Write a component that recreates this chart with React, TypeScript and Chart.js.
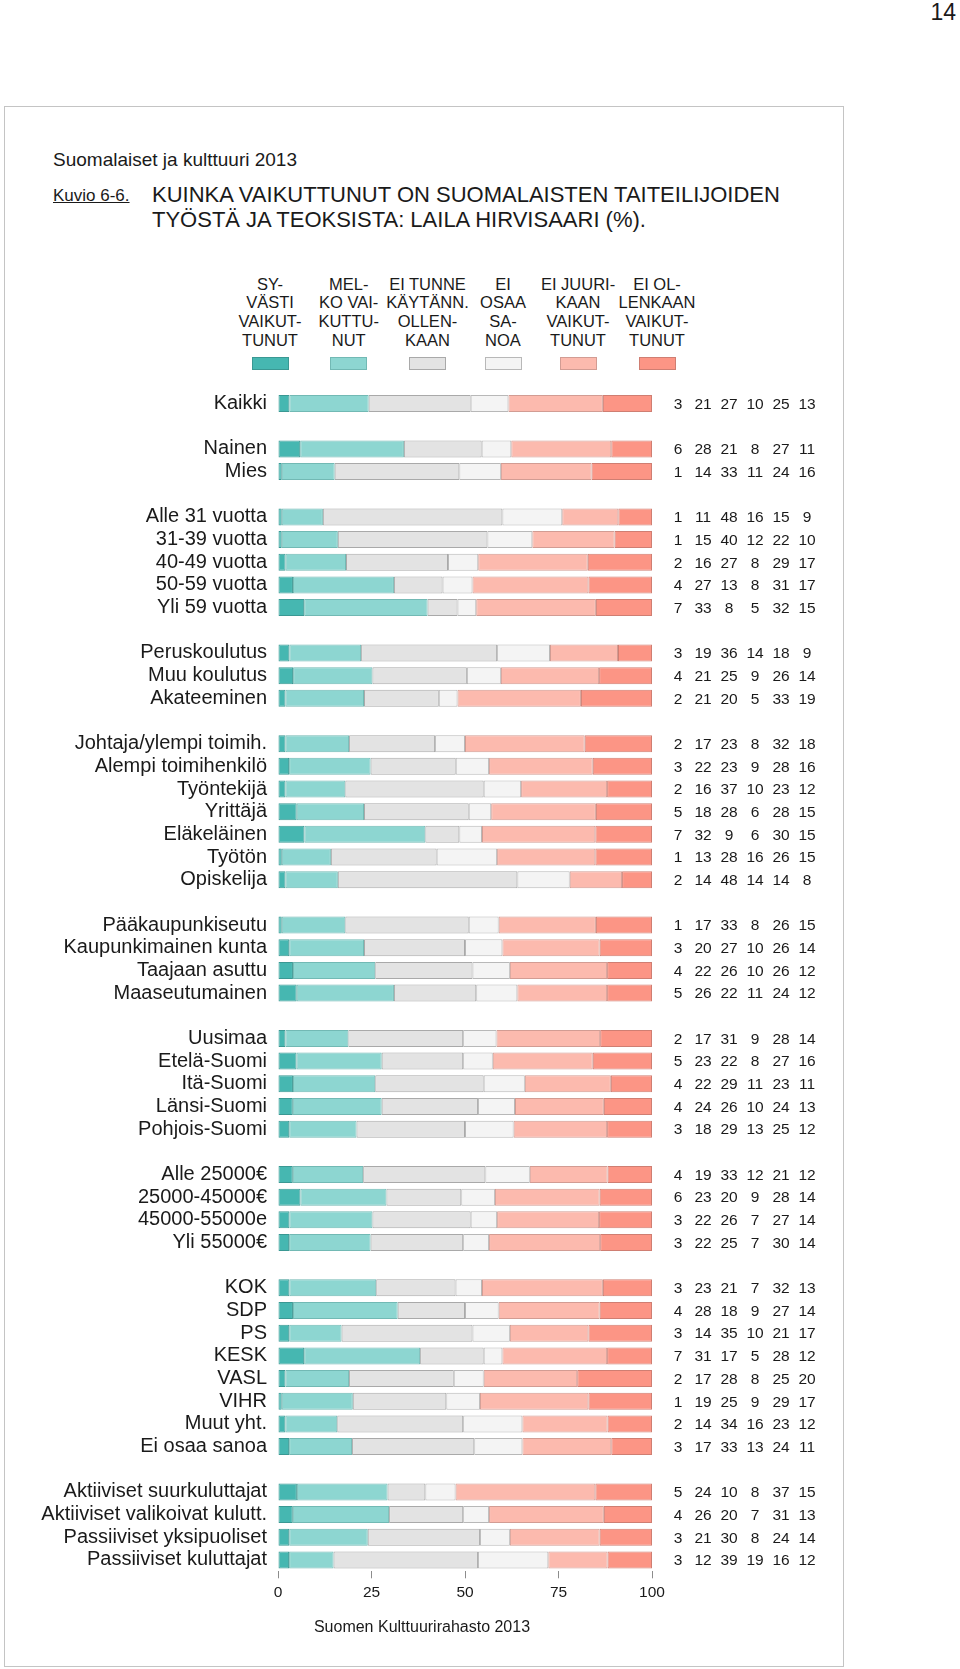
import React, { useEffect, useRef } from 'react';
import { Chart, registerables } from 'chart.js';
Chart.register(...registerables);

const categories: string[] = [
  'Kaikki', '',
  'Nainen', 'Mies', '',
  'Alle 31 vuotta', '31-39 vuotta', '40-49 vuotta', '50-59 vuotta', 'Yli 59 vuotta', '',
  'Peruskoulutus', 'Muu koulutus', 'Akateeminen', '',
  'Johtaja/ylempi toimih.', 'Alempi toimihenkilö', 'Työntekijä', 'Yrittäjä', 'Eläkeläinen', 'Työtön', 'Opiskelija', '',
  'Pääkaupunkiseutu', 'Kaupunkimainen kunta', 'Taajaan asuttu', 'Maaseutumainen', '',
  'Uusimaa', 'Etelä-Suomi', 'Itä-Suomi', 'Länsi-Suomi', 'Pohjois-Suomi', '',
  'Alle 25000€', '25000-45000€', '45000-55000e', 'Yli 55000€', '',
  'KOK', 'SDP', 'PS', 'KESK', 'VASL', 'VIHR', 'Muut yht.', 'Ei osaa sanoa', '',
  'Aktiiviset suurkuluttajat', 'Aktiiviset valikoivat kulutt.', 'Passiiviset yksipuoliset', 'Passiiviset kuluttajat',
];

const seriesNames: string[][] = [
  ['SY-', 'VÄSTI', 'VAIKUT-', 'TUNUT'],
  ['MEL-', 'KO VAI-', 'KUTTU-', 'NUT'],
  ['EI TUNNE', 'KÄYTÄNN.', 'OLLEN-', 'KAAN'],
  ['EI', 'OSAA', 'SA-', 'NOA'],
  ['EI JUURI-', 'KAAN', 'VAIKUT-', 'TUNUT'],
  ['EI OL-', 'LENKAAN', 'VAIKUT-', 'TUNUT'],
];

const syvasti: (number | null)[] = [3, null, 6, 1, null, 1, 1, 2, 4, 7, null, 3, 4, 2, null, 2, 3, 2, 5, 7, 1, 2, null, 1, 3, 4, 5, null, 2, 5, 4, 4, 3, null, 4, 6, 3, 3, null, 3, 4, 3, 7, 2, 1, 2, 3, null, 5, 4, 3, 3];
const melko: (number | null)[] = [21, null, 28, 14, null, 11, 15, 16, 27, 33, null, 19, 21, 21, null, 17, 22, 16, 18, 32, 13, 14, null, 17, 20, 22, 26, null, 17, 23, 22, 24, 18, null, 19, 23, 22, 22, null, 23, 28, 14, 31, 17, 19, 14, 17, null, 24, 26, 21, 12];
const eiTunne: (number | null)[] = [27, null, 21, 33, null, 48, 40, 27, 13, 8, null, 36, 25, 20, null, 23, 23, 37, 28, 9, 28, 48, null, 33, 27, 26, 22, null, 31, 22, 29, 26, 29, null, 33, 20, 26, 25, null, 21, 18, 35, 17, 28, 25, 34, 33, null, 10, 20, 30, 39];
const eiOsaa: (number | null)[] = [10, null, 8, 11, null, 16, 12, 8, 8, 5, null, 14, 9, 5, null, 8, 9, 10, 6, 6, 16, 14, null, 8, 10, 10, 11, null, 9, 8, 11, 10, 13, null, 12, 9, 7, 7, null, 7, 9, 10, 5, 8, 9, 16, 13, null, 8, 7, 8, 19];
const eiJuurikaan: (number | null)[] = [25, null, 27, 24, null, 15, 22, 29, 31, 32, null, 18, 26, 33, null, 32, 28, 23, 28, 30, 26, 14, null, 26, 26, 26, 24, null, 28, 27, 23, 24, 25, null, 21, 28, 27, 30, null, 32, 27, 21, 28, 25, 29, 23, 24, null, 37, 31, 24, 16];
const eiLainkaan: (number | null)[] = [13, null, 11, 16, null, 9, 10, 17, 17, 15, null, 9, 14, 19, null, 18, 16, 12, 15, 15, 15, 8, null, 15, 14, 12, 12, null, 14, 16, 11, 13, 12, null, 12, 14, 14, 14, null, 13, 14, 17, 12, 20, 17, 12, 11, null, 15, 13, 14, 12];

const xTicks: number[] = [0, 25, 50, 75, 100];

const fills = ['#46b7b1', '#8dd6d1', '#e3e3e3', '#f4f4f4', '#fcbaae', '#fc9585'];
const borders = ['#3a9893', '#72b9b4', '#a9a9a9', '#b8b8b8', '#d29c93', '#cf7e72'];

const FONT = '"Liberation Sans", Arial, Helvetica, sans-serif';
const NUM_X = [678, 703, 729, 755, 781, 807];

const allSeries = [syvasti, melko, eiTunne, eiOsaa, eiJuurikaan, eiLainkaan];

// 100 % stacked: each row is shown as shares of its own total
const rowTotals = categories.map((_, i) => allSeries.reduce((a, s) => a + (s[i] ?? 0), 0));
const shareSeries = allSeries.map((s) => s.map((v, i) => (v == null ? null : (v / rowTotals[i]) * 100)));

const numbersPlugin = {
  id: 'rowNumbers',
  afterDatasetsDraw(chart: any) {
    const ctx = chart.ctx;
    const yScale = chart.scales.y;
    ctx.save();
    ctx.font = `15.5px ${FONT}`;
    ctx.fillStyle = '#1a1a1a';
    ctx.textAlign = 'center';
    ctx.textBaseline = 'middle';
    categories.forEach((c, i) => {
      if (!c) return;
      const y = yScale.getPixelForValue(i);
      allSeries.forEach((s, k) => {
        const v = s[i];
        if (v == null) return;
        ctx.fillText(String(v), NUM_X[k], y + 1);
      });
    });
    ctx.restore();
  },
};

const CANVAS_TOP = 380;
const CANVAS_W = 840;
const CANVAS_H = 1240;

export default function App() {
  const ref = useRef<HTMLCanvasElement | null>(null);
  useEffect(() => {
    if (!ref.current) return;
    const chart = new Chart(ref.current, {
      type: 'bar',
      data: {
        labels: categories,
        datasets: shareSeries.map((s, k) => ({
          label: seriesNames[k].join(' '),
          data: s,
          backgroundColor: fills[k],
          borderColor: borders[k],
          borderWidth: 1,
          borderSkipped: false,
          barPercentage: 0.75,
          categoryPercentage: 1,
        })),
      },
      options: {
        indexAxis: 'y',
        animation: false,
        responsive: false,
        devicePixelRatio: 1,
        layout: { padding: { top: 12.2, right: CANVAS_W - 652, bottom: 8.7, left: 0 } },
        plugins: { legend: { display: false }, tooltip: { enabled: false } },
        scales: {
          x: {
            stacked: true,
            min: 0,
            max: 100,
            afterBuildTicks: (scale: any) => {
              scale.ticks = xTicks.map((v) => ({ value: v }));
            },
            afterFit: (scale: any) => {
              scale.height = 40;
              scale.paddingLeft = 0;
              scale.paddingRight = 0;
            },
            grid: { display: true, drawOnChartArea: false, drawTicks: true, tickLength: 7, color: '#8c8c8c' },
            border: { display: false },
            ticks: { font: { family: FONT, size: 15.5 }, color: '#1a1a1a', padding: 5 },
          },
          y: {
            stacked: true,
            afterFit: (scale: any) => {
              scale.width = 278;
              scale.paddingTop = 0;
              scale.paddingBottom = 0;
            },
            grid: { display: false, drawTicks: false },
            border: { display: false },
            ticks: { autoSkip: false, font: { family: FONT, size: 20 }, color: '#1a1a1a', padding: 11 },
          },
        },
      },
      plugins: [numbersPlugin],
    } as any);
    return () => chart.destroy();
  }, []);

  const headerCenters = [270, 348.7, 427.5, 503, 578, 657];

  return (
    <div style={{ position: 'absolute', left: 0, top: 0, width: 960, height: 1669, fontFamily: FONT, color: '#1a1a1a', background: '#fff', overflow: 'hidden' }}>
      <div style={{ position: 'absolute', right: 4, top: -1, fontSize: 23 }}>14</div>
      <div style={{ position: 'absolute', left: 4, top: 106, width: 838, height: 1559, border: '1px solid #c4c4c4' }} />
      <div style={{ position: 'absolute', left: 53, top: 149, fontSize: 19, whiteSpace: 'nowrap' }}>Suomalaiset ja kulttuuri 2013</div>
      <div style={{ position: 'absolute', left: 53, top: 186, fontSize: 17, textDecoration: 'underline', whiteSpace: 'nowrap' }}>Kuvio 6-6.</div>
      <div style={{ position: 'absolute', left: 152, top: 182, fontSize: 22, lineHeight: '25px', whiteSpace: 'nowrap' }}>
        KUINKA VAIKUTTUNUT ON SUOMALAISTEN TAITEILIJOIDEN<br />TYÖSTÄ JA TEOKSISTA: LAILA HIRVISAARI (%).
      </div>
      {seriesNames.map((lines, k) => (
        <div key={k}>
          <div style={{ position: 'absolute', left: headerCenters[k] - 50, width: 100, top: 274.5, fontSize: 16.5, lineHeight: '18.7px', textAlign: 'center' }}>
            {lines.map((l, j) => (<div key={j}>{l}</div>))}
          </div>
          <div style={{ position: 'absolute', left: headerCenters[k] - 18.5, top: 357, width: 37, height: 13, boxSizing: 'border-box', background: fills[k], border: `1px solid ${borders[k]}` }} />
        </div>
      ))}
      <canvas ref={ref} width={CANVAS_W} height={CANVAS_H} style={{ position: 'absolute', left: 0, top: CANVAS_TOP, width: CANVAS_W, height: CANVAS_H }} />
      <div style={{ position: 'absolute', left: 222, width: 400, top: 1618, fontSize: 16, textAlign: 'center' }}>Suomen Kulttuurirahasto 2013</div>
    </div>
  );
}
